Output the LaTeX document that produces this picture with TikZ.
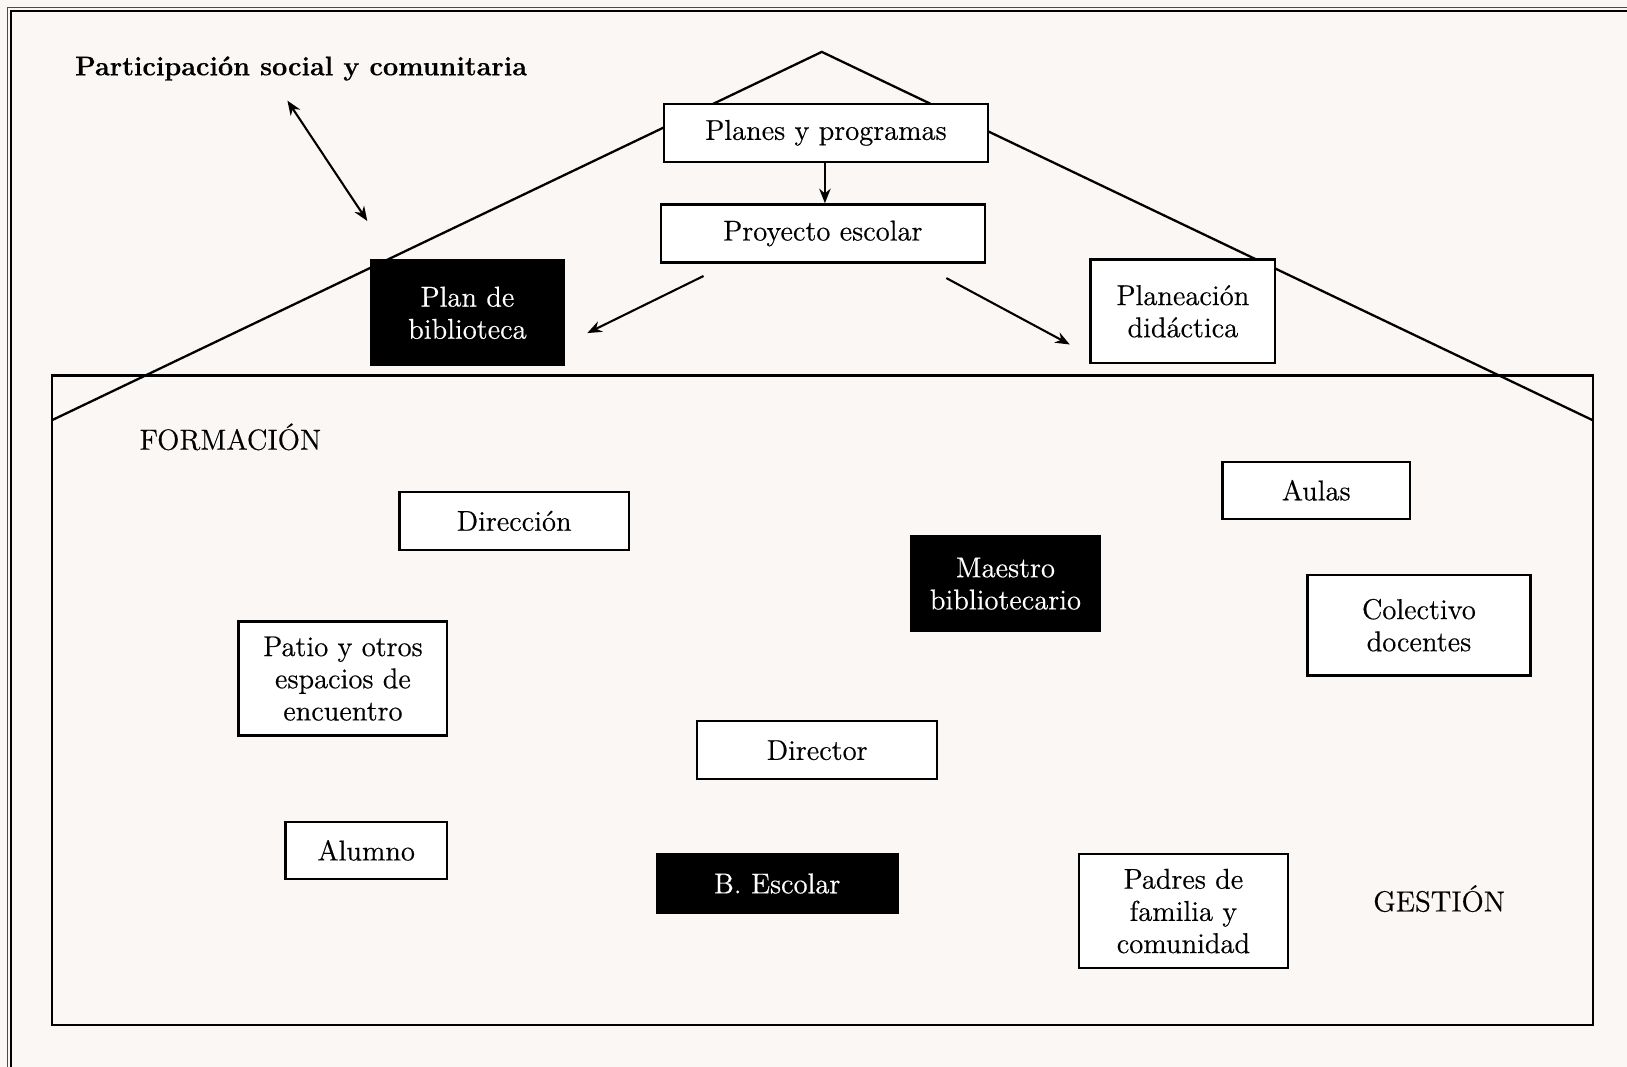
\documentclass[tikz,border=0pt]{standalone}
\usepackage{fontspec}
\setmainfont{Latin Modern Roman}[FakeBold=0.5]
\usetikzlibrary{arrows.meta}
\definecolor{paper}{RGB}{250,247,245}
\begin{document}
\begin{tikzpicture}[x=0.5pt,y=-0.5pt,
  box/.style={draw=black, line width=1.15pt, fill=white, align=center, inner sep=0pt,
    font=\fontsize{13.8}{15.5}\selectfont},
  darkbox/.style={box, fill=black, text=white},
  wall/.style={line width=1.1pt, line join=miter},
  arr/.style={line width=1pt, -{Stealth[length=7pt,width=5.5pt]}},
  darr/.style={line width=1pt, {Stealth[length=7pt,width=5.5pt]}-{Stealth[length=7pt,width=5.5pt]}},
  lbl/.style={inner sep=0pt, font=\fontsize{14}{16}\selectfont}]
\fill[paper] (0,0) rectangle (1568,1028);
\useasboundingbox (0,0) rectangle (1568,1028);
% page frame (left and top only visible)
\draw[line width=0.4pt, black!70] (7.5,1028) -- (7.5,7.5) -- (1568,7.5);
\draw[line width=1.2pt] (10.8,1028) -- (10.8,10.8) -- (1568,10.8);
% house
\coordinate (apex) at (792,50);
\coordinate (lw) at (50,405);
\coordinate (rw) at (1535,405);
\draw[wall] (lw) -- (apex) -- (rw);
\draw[wall] (50,362) rectangle (1535,988);
% title
\node[anchor=west, inner sep=0pt, font=\bfseries\fontsize{13}{15}\selectfont] (title) at (72,66) {Participación social y comunitaria};
\coordinate (da1) at (277,97);
\coordinate (da2) at (354,213);
\draw[darr] (da1) -- (da2);
% boxes
\node[box, minimum width=156pt, minimum height=28pt] (plan) at (796,128) {Planes y programas};
\node[box, minimum width=156pt, minimum height=28pt] (proy) at (793,225) {Proyecto escolar};
\node[darkbox, minimum width=92.5pt, minimum height=50.5pt] (bib) at (450.5,301.5) {Plan de\\biblioteca};
\node[box, minimum width=89pt, minimum height=50pt] (pdid) at (1140,300) {Planeación\\didáctica};
\node[box, minimum width=110.5pt, minimum height=28pt] (dir) at (495.5,502) {Dirección};
\node[box, minimum width=90.5pt, minimum height=27.5pt] (aulas) at (1268.5,472.5) {Aulas};
\node[darkbox, minimum width=91pt, minimum height=45.5pt] (maestro) at (969,562.5) {Maestro\\bibliotecario};
\node[box, minimum width=107.5pt, minimum height=48.5pt] (colec) at (1367.5,602.5) {Colectivo\\docentes};
\node[box, minimum width=100.5pt, minimum height=55pt] (patio) at (330.5,654) {Patio y otros\\espacios de\\encuentro};
\node[box, minimum width=115.5pt, minimum height=28pt] (director) at (787.5,723) {Director};
\node[box, minimum width=78pt, minimum height=27.5pt] (alumno) at (353,819.5) {Alumno};
\node[darkbox, minimum width=116pt, minimum height=28.5pt] (besc) at (749,851.5) {B. Escolar};
\node[box, minimum width=100.5pt, minimum height=55pt] (padres) at (1140.5,878) {Padres de\\familia y\\comunidad};
% labels
\node[lbl, anchor=west] (form) at (134,421) {FORMACIÓN};
\node[lbl] (gest) at (1387,866) {GESTIÓN};
% arrows
\draw[arr] ([xshift=-0.5pt]plan.south) -- ([xshift=-0.5pt]plan.south |- proy.north);
\coordinate (l1) at (678,266);
\coordinate (l2) at (566,321);
\draw[arr] (l1) -- (l2);
\coordinate (r1) at (912,268);
\coordinate (r2) at (1031,332);
\draw[arr] (r1) -- (r2);
\end{tikzpicture}
\end{document}
